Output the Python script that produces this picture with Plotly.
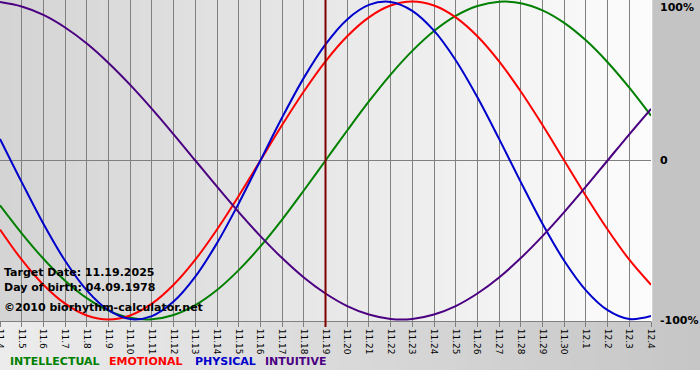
import plotly.graph_objects as go

# ---- data ----
dates = ["11.4", "11.5", "11.6", "11.7", "11.8", "11.9", "11.10", "11.11", "11.12", "11.13",
         "11.14", "11.15", "11.16", "11.17", "11.18", "11.19", "11.20", "11.21", "11.22", "11.23",
         "11.24", "11.25", "11.26", "11.27", "11.28", "11.29", "11.30", "12.1", "12.2", "12.3", "12.4"]

intellectual = [-28.2, -45.8, -61.8, -75.6, -86.6, -94.5, -99.0, -99.9, -97.2, -91.0, -81.5,
                -69.0, -54.1, -37.2, -18.9, 0.0, 18.9, 37.2, 54.1, 69.0, 81.5, 91.0, 97.2,
                99.9, 99.0, 94.5, 86.6, 75.6, 61.8, 45.8, 28.2]
emotional = [-43.4, -62.4, -78.2, -90.1, -97.5, -100.0, -97.5, -90.1, -78.2, -62.4, -43.4,
             -22.3, 0.0, 22.3, 43.4, 62.4, 78.2, 90.1, 97.5, 100.0, 97.5, 90.1, 78.2, 62.4,
             43.4, 22.3, 0.0, -22.3, -43.4, -62.4, -78.2]
physical = [13.6, -13.6, -39.8, -63.1, -81.7, -94.2, -99.8, -97.9, -88.8, -73.1, -52.0,
            -27.0, 0.0, 27.0, 52.0, 73.1, 88.8, 97.9, 99.8, 94.2, 81.7, 63.1, 39.8, 13.6,
            -13.6, -39.8, -63.1, -81.7, -94.2, -99.8, -97.9]
intuitive = [99.7, 96.9, 91.6, 83.7, 73.6, 61.4, 47.6, 32.5, 16.5, 0.0, -16.5, -32.5, -47.6,
             -61.4, -73.6, -83.7, -91.6, -96.9, -99.7, -99.7, -96.9, -91.6, -83.7, -73.6,
             -61.4, -47.6, -32.5, -16.5, 0.0, 16.5, 32.5]

series_names = ["INTELLECTUAL", "EMOTIONAL", "PHYSICAL", "INTUITIVE"]
series_values = [intellectual, emotional, physical, intuitive]
series_colors = ["#008000", "#ff0000", "#0000cc", "#4b0082"]

target_date = "11.19"
info_lines = ["Target Date: 11.19.2025", "Day of birth: 04.09.1978", "©2010 biorhythm-calculator.net"]
y_labels = ["100%", "0", "-100%"]
y_label_vals = [100, 0, -100]

# ---- figure ----
W, H = 700, 380
L, R, T, B = 0, 49, 0, 59
pw, ph = W - L - R, H - T - B

fig = go.Figure()
for name, vals, col in zip(series_names, series_values, series_colors):
    fig.add_trace(go.Scatter(x=dates, y=vals, mode="lines", name=name,
                             line=dict(color=col, width=2, shape="spline", smoothing=1.0),
                             hoverinfo="skip"))

shapes = []


def lerp_col(c0, c1, f):
    v = round(c0 + (c1 - c0) * f)
    return f"rgb({v},{v},{v})"


# right margin gray
shapes.append(dict(type="rect", xref="paper", yref="paper", x0=1, x1=W / pw, y0=0, y1=1.01,
                   fillcolor="#c4c4c4", line=dict(width=0), layer="below"))
# plot area gradient (gray -> white)
N = 60
for i in range(N):
    shapes.append(dict(type="rect", xref="paper", yref="paper",
                       x0=i / N, x1=(i + 1) / N + 0.002, y0=0, y1=1.01,
                       fillcolor=lerp_col(212, 252, i / (N - 1)), line=dict(width=0), layer="below"))
# bottom band gradient (light -> gray)
by0 = -(370 - ph) / ph
for i in range(N):
    xa = i / N * (W / pw)
    xb = (i + 1) / N * (W / pw) + 0.002
    shapes.append(dict(type="rect", xref="paper", yref="paper",
                       x0=xa, x1=xb, y0=by0, y1=0,
                       fillcolor=lerp_col(236, 198, i / (N - 1)), line=dict(width=0), layer="below"))
# target date line
ti = dates.index(target_date)
shapes.append(dict(type="line", xref="x", yref="paper", x0=ti, x1=ti, y0=-6 / ph, y1=1,
                   line=dict(color="#800000", width=2), layer="above"))

annotations = []
# info text
info_y = [272, 287, 307]
for txt, yy in zip(info_lines, info_y):
    annotations.append(dict(text=txt, xref="paper", yref="paper", x=0, y=(ph - yy) / ph,
                            xanchor="left", yanchor="middle", xshift=2, showarrow=False,
                            font=dict(family="DejaVu Sans", size=11, color="black", weight="bold")))
# right-side labels
for lab, v in zip(y_labels, y_label_vals):
    yshift = -6 if v == 100 else (-1 if v == -100 else 0)
    annotations.append(dict(text=lab, xref="paper", yref="y", x=1, y=v, xanchor="left",
                            yanchor="middle", xshift=7, yshift=yshift, showarrow=False,
                            font=dict(family="DejaVu Sans", size=11, color="black", weight="bold")))
# legend row (each name placed at its own left edge)
legend_left_px = [8, 107, 193, 263]
for n, c, lx in zip(series_names, series_colors, legend_left_px):
    annotations.append(dict(text=n, xref="paper", yref="paper", x=lx / pw, y=(ph - 362) / ph,
                            xanchor="left", yanchor="middle", showarrow=False,
                            font=dict(family="DejaVu Sans", size=11, weight="bold", color=c)))

fig.update_layout(
    width=W, height=H, margin=dict(l=L, r=R, t=T, b=B, pad=0),
    paper_bgcolor="white", plot_bgcolor="rgba(0,0,0,0)",
    showlegend=False, shapes=shapes, annotations=annotations,
    xaxis=dict(type="category", range=[0, len(dates) - 1], showgrid=True, gridcolor="#808080",
               gridwidth=1, ticks="outside", ticklen=5, tickcolor="#808080", tickangle=90,
               tickfont=dict(family="DejaVu Sans", size=9, color="black"),
               showline=True, linecolor="#808080", mirror=True, zeroline=False,
               automargin=False, fixedrange=True),
    yaxis=dict(range=[-101, 101], showgrid=False, zeroline=True, zerolinecolor="#808080",
               zerolinewidth=1, showticklabels=False, ticks="", showline=False,
               automargin=False, fixedrange=True),
)

fig.write_html("out.html", config={"displayModeBar": False},
               post_script="document.body.style.margin='0';document.body.style.overflow='hidden';")
